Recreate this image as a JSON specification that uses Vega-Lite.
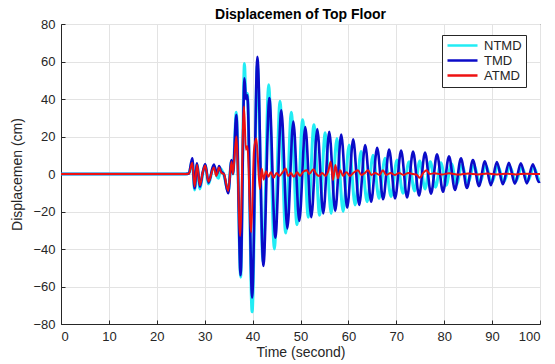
{
  "$schema": "https://vega.github.io/schema/vega-lite/v6.json",
  "width": 479,
  "height": 300,
  "autosize": {"type": "none"},
  "padding": {"left": 61, "top": 24, "right": 15, "bottom": 40},
  "background": "white",
  "title": {"text": "Displacemen of Top Floor", "fontSize": 14, "fontWeight": "bold", "font": "Liberation Sans", "offset": -4, "color": "#000000"},
  "config": {
    "view": {"stroke": "#262626", "strokeWidth": 1},
    "axis": {"gridColor": "#e3e3e3", "gridWidth": 1, "domainColor": "#262626", "tickColor": "#262626", "labelFont": "Liberation Sans", "labelFontSize": 13, "labelColor": "#262626", "titleFont": "Liberation Sans", "titleFontSize": 14, "titleFontWeight": "normal", "titleColor": "#262626", "tickSize": -4, "labelPadding": 10},
    "legend": {"labelFont": "Liberation Sans", "labelFontSize": 13, "labelColor": "#262626"}
  },
  "datasets": {
    "d": [
      {"s":"NTMD","t":0,"v":0},{"s":"NTMD","t":26,"v":0},{"s":"NTMD","t":26.7,"v":0.3},{"s":"NTMD","t":27.4,"v":7},{"s":"NTMD","t":27.9,"v":-8.5},{"s":"NTMD","t":28.4,"v":5},{"s":"NTMD","t":29.0,"v":-8},{"s":"NTMD","t":29.6,"v":0.5},{"s":"NTMD","t":30.1,"v":4.8},{"s":"NTMD","t":30.8,"v":-5.3},{"s":"NTMD","t":31.9,"v":4.5},{"s":"NTMD","t":32.5,"v":-1},{"s":"NTMD","t":32.9,"v":-2.3},{"s":"NTMD","t":33.3,"v":3},{"s":"NTMD","t":34.0,"v":-0.5},{"s":"NTMD","t":34.9,"v":-9.5},{"s":"NTMD","t":35.6,"v":7},{"s":"NTMD","t":35.9,"v":0},{"s":"NTMD","t":36.6,"v":33},{"s":"NTMD","t":37.5,"v":-55},{"s":"NTMD","t":38.3,"v":59},{"s":"NTMD","t":38.6,"v":41},{"s":"NTMD","t":38.9,"v":43},{"s":"NTMD","t":39.9,"v":-73.5},{"s":"NTMD","t":41.0,"v":58},
      {"s":"NTMD","t":42.18,"v":-47},{"s":"NTMD","t":43.36,"v":47.6},{"s":"NTMD","t":44.54,"v":-40},{"s":"NTMD","t":45.72,"v":38.8},{"s":"NTMD","t":46.9,"v":-31.5},{"s":"NTMD","t":48.08,"v":32.9},{"s":"NTMD","t":49.26,"v":-27},{"s":"NTMD","t":50.44,"v":29},{"s":"NTMD","t":51.62,"v":-23},{"s":"NTMD","t":52.8,"v":26.3},{"s":"NTMD","t":53.98,"v":-22},{"s":"NTMD","t":55.16,"v":22},{"s":"NTMD","t":56.4,"v":-21},{"s":"NTMD","t":57.6,"v":19},{"s":"NTMD","t":58.9,"v":-20},{"s":"NTMD","t":60.15,"v":15.5},{"s":"NTMD","t":61.4,"v":-16.5},{"s":"NTMD","t":62.65,"v":12},{"s":"NTMD","t":63.9,"v":-14.8},{"s":"NTMD","t":65.15,"v":10},{"s":"NTMD","t":66.4,"v":-13},{"s":"NTMD","t":67.65,"v":8.4},{"s":"NTMD","t":68.9,"v":-12},{"s":"NTMD","t":70.15,"v":7.5},{"s":"NTMD","t":71.4,"v":-10.3},{"s":"NTMD","t":72.65,"v":6.6},{"s":"NTMD","t":73.8,"v":-9},{"s":"NTMD","t":74.9,"v":7},{"s":"NTMD","t":76.0,"v":-8},{"s":"NTMD","t":77.1,"v":6.5},{"s":"NTMD","t":78.2,"v":-7},{"s":"NTMD","t":79.3,"v":6},{"s":"NTMD","t":80.4,"v":-6},{"s":"NTMD","t":81.5,"v":5.5},{"s":"NTMD","t":82.6,"v":-5.5},{"s":"NTMD","t":83.7,"v":5},{"s":"NTMD","t":84.95,"v":-5},{"s":"NTMD","t":86.2,"v":4.8},{"s":"NTMD","t":87.45,"v":-4.6},{"s":"NTMD","t":88.7,"v":4.5},{"s":"NTMD","t":89.95,"v":-4.4},{"s":"NTMD","t":91.2,"v":4.3},{"s":"NTMD","t":92.45,"v":-4.2},{"s":"NTMD","t":93.7,"v":4},{"s":"NTMD","t":94.95,"v":-4},{"s":"NTMD","t":96.2,"v":3.8},{"s":"NTMD","t":97.45,"v":-3.8},{"s":"NTMD","t":98.7,"v":3.6},{"s":"NTMD","t":99.95,"v":-3.4},{"s":"NTMD","t":100,"v":-3.4},

      {"s":"TMD","t":0,"v":0},{"s":"TMD","t":26,"v":0},{"s":"TMD","t":26.7,"v":0.3},{"s":"TMD","t":27.4,"v":8.4},{"s":"TMD","t":27.9,"v":-7.6},{"s":"TMD","t":28.4,"v":5.7},{"s":"TMD","t":29.0,"v":-6.8},{"s":"TMD","t":29.6,"v":1},{"s":"TMD","t":30.1,"v":5.3},{"s":"TMD","t":30.8,"v":-4.6},{"s":"TMD","t":31.9,"v":5},{"s":"TMD","t":32.6,"v":0},{"s":"TMD","t":33.0,"v":4.3},{"s":"TMD","t":33.4,"v":1.5},{"s":"TMD","t":34.0,"v":0},{"s":"TMD","t":34.9,"v":-10.3},{"s":"TMD","t":35.6,"v":7.5},{"s":"TMD","t":35.9,"v":0},{"s":"TMD","t":36.6,"v":31.6},{"s":"TMD","t":37.5,"v":-54},{"s":"TMD","t":38.3,"v":51},{"s":"TMD","t":38.6,"v":40},{"s":"TMD","t":38.9,"v":42},{"s":"TMD","t":39.9,"v":-66},{"s":"TMD","t":41.0,"v":62.5},
      {"s":"TMD","t":42.25,"v":-49},{"s":"TMD","t":43.5,"v":40.5},{"s":"TMD","t":44.75,"v":-34},{"s":"TMD","t":46,"v":34},{"s":"TMD","t":47.25,"v":-29},{"s":"TMD","t":48.5,"v":28},{"s":"TMD","t":49.75,"v":-25},{"s":"TMD","t":51,"v":25},{"s":"TMD","t":52.25,"v":-23},{"s":"TMD","t":53.5,"v":24},{"s":"TMD","t":54.75,"v":-21},{"s":"TMD","t":56,"v":22.5},{"s":"TMD","t":57.25,"v":-19.7},{"s":"TMD","t":58.5,"v":21},{"s":"TMD","t":59.75,"v":-18},{"s":"TMD","t":61,"v":18.5},{"s":"TMD","t":62.25,"v":-16.5},{"s":"TMD","t":63.5,"v":15.5},{"s":"TMD","t":64.75,"v":-14.8},{"s":"TMD","t":66,"v":14},{"s":"TMD","t":67.25,"v":-13.5},{"s":"TMD","t":68.5,"v":13},{"s":"TMD","t":69.75,"v":-13},{"s":"TMD","t":71,"v":12.5},{"s":"TMD","t":72.25,"v":-12.5},{"s":"TMD","t":73.5,"v":12},{"s":"TMD","t":74.75,"v":-11.5},{"s":"TMD","t":76,"v":11.5},{"s":"TMD","t":77.25,"v":-10.5},{"s":"TMD","t":78.5,"v":10.5},{"s":"TMD","t":79.75,"v":-9.5},{"s":"TMD","t":81,"v":9.5},{"s":"TMD","t":82.25,"v":-8.5},{"s":"TMD","t":83.5,"v":8.4},{"s":"TMD","t":84.75,"v":-7.5},{"s":"TMD","t":86,"v":7.5},{"s":"TMD","t":87.25,"v":-6.5},{"s":"TMD","t":88.5,"v":6.8},{"s":"TMD","t":89.75,"v":-6},{"s":"TMD","t":91,"v":6.4},{"s":"TMD","t":92.25,"v":-5.5},{"s":"TMD","t":93.5,"v":6},{"s":"TMD","t":94.75,"v":-5.2},{"s":"TMD","t":96,"v":5.7},{"s":"TMD","t":97.25,"v":-5},{"s":"TMD","t":98.5,"v":5.2},{"s":"TMD","t":99.75,"v":-4.3},{"s":"TMD","t":100,"v":-4},

      {"s":"ATMD","t":0,"v":0},{"s":"ATMD","t":26,"v":0},{"s":"ATMD","t":26.7,"v":0.3},{"s":"ATMD","t":27.4,"v":6},{"s":"ATMD","t":27.9,"v":-6.6},{"s":"ATMD","t":28.4,"v":5},{"s":"ATMD","t":29.0,"v":-6},{"s":"ATMD","t":29.6,"v":1},{"s":"ATMD","t":30.1,"v":4.5},{"s":"ATMD","t":30.8,"v":-4},{"s":"ATMD","t":31.9,"v":3.5},{"s":"ATMD","t":32.4,"v":-1},{"s":"ATMD","t":33.0,"v":3.5},{"s":"ATMD","t":33.5,"v":0.5},{"s":"ATMD","t":34.0,"v":0},{"s":"ATMD","t":34.9,"v":-9},{"s":"ATMD","t":35.6,"v":6.5},{"s":"ATMD","t":35.9,"v":0},{"s":"ATMD","t":36.6,"v":20},{"s":"ATMD","t":37.4,"v":-33},{"s":"ATMD","t":38.2,"v":36},{"s":"ATMD","t":38.6,"v":13},{"s":"ATMD","t":38.9,"v":15},{"s":"ATMD","t":39.7,"v":-31},{"s":"ATMD","t":40.3,"v":13},{"s":"ATMD","t":40.8,"v":19},{"s":"ATMD","t":41.5,"v":-8},{"s":"ATMD","t":41.9,"v":3},{"s":"ATMD","t":42.3,"v":-3},{"s":"ATMD","t":42.8,"v":1.5},{"s":"ATMD","t":43.3,"v":-1.5},{"s":"ATMD","t":43.8,"v":1},{"s":"ATMD","t":44.4,"v":-2},{"s":"ATMD","t":45.0,"v":0.5},{"s":"ATMD","t":45.6,"v":-1},{"s":"ATMD","t":46.3,"v":1},{"s":"ATMD","t":46.9,"v":3},{"s":"ATMD","t":47.4,"v":-1},{"s":"ATMD","t":48.0,"v":0.5},{"s":"ATMD","t":48.6,"v":-1.5},{"s":"ATMD","t":49.3,"v":1},{"s":"ATMD","t":49.9,"v":-1},{"s":"ATMD","t":50.5,"v":1},{"s":"ATMD","t":51.3,"v":2},{"s":"ATMD","t":51.8,"v":0},{"s":"ATMD","t":52.7,"v":2.5},{"s":"ATMD","t":53.3,"v":0},{"s":"ATMD","t":53.9,"v":-1},{"s":"ATMD","t":54.5,"v":0.5},{"s":"ATMD","t":55.2,"v":-1},{"s":"ATMD","t":55.8,"v":1.5},{"s":"ATMD","t":56.3,"v":6.5},{"s":"ATMD","t":56.8,"v":-3.2},{"s":"ATMD","t":57.3,"v":4.8},{"s":"ATMD","t":57.8,"v":-2.3},{"s":"ATMD","t":58.3,"v":2},{"s":"ATMD","t":58.9,"v":-1},{"s":"ATMD","t":59.6,"v":1},{"s":"ATMD","t":60.3,"v":-1},{"s":"ATMD","t":61.0,"v":0.5},{"s":"ATMD","t":62.0,"v":2},{"s":"ATMD","t":62.7,"v":-0.5},{"s":"ATMD","t":63.4,"v":0.5},{"s":"ATMD","t":64.1,"v":2},{"s":"ATMD","t":64.8,"v":-0.5},{"s":"ATMD","t":65.6,"v":0.5},{"s":"ATMD","t":66.5,"v":-0.5},{"s":"ATMD","t":67.2,"v":2},{"s":"ATMD","t":67.9,"v":-0.5},{"s":"ATMD","t":68.8,"v":0.5},{"s":"ATMD","t":69.7,"v":-0.5},{"s":"ATMD","t":70.6,"v":0.5},{"s":"ATMD","t":71.5,"v":-0.5},{"s":"ATMD","t":72.5,"v":0.5},{"s":"ATMD","t":73.5,"v":0},{"s":"ATMD","t":74.3,"v":-0.5},{"s":"ATMD","t":74.9,"v":-2},{"s":"ATMD","t":75.6,"v":0.5},{"s":"ATMD","t":76.3,"v":2},{"s":"ATMD","t":77.0,"v":0},{"s":"ATMD","t":78.0,"v":0.4},{"s":"ATMD","t":79.5,"v":-0.3},{"s":"ATMD","t":81,"v":0.4},{"s":"ATMD","t":83,"v":-0.3},{"s":"ATMD","t":85,"v":0.3},{"s":"ATMD","t":87,"v":-0.2},{"s":"ATMD","t":89,"v":0.3},{"s":"ATMD","t":91,"v":-0.2},{"s":"ATMD","t":93,"v":0.2},{"s":"ATMD","t":95,"v":-0.2},{"s":"ATMD","t":97,"v":0.2},{"s":"ATMD","t":100,"v":0}
    ]
  },
  "data": {"name": "d"},
  "encoding": {
    "x": {"field": "t", "type": "quantitative", "scale": {"domain": [0, 100], "nice": false}, "axis": {"values": [0,10,20,30,40,50,60,70,80,90,100], "title": "Time (second)", "titleY": 21}},
    "y": {"field": "v", "type": "quantitative", "scale": {"domain": [-80, 80], "nice": false}, "axis": {"values": [-80,-60,-40,-20,0,20,40,60,80], "title": "Displacemen (cm)", "titleX": -37}},
    "color": {"field": "s", "type": "nominal", "scale": {"domain": ["NTMD", "TMD", "ATMD"], "range": ["#22ecf4", "#0b0bc8", "#ee1111"]},
      "legend": {"title": null, "orient": "none", "legendX": 381, "legendY": 11, "fillColor": "white", "strokeColor": "#262626", "padding": 4, "symbolType": "stroke", "symbolSize": 900, "symbolStrokeWidth": 2.5, "clipHeight": 13, "rowPadding": 1, "labelOffset": 5}}
  },
  "layer": [
    {"transform": [{"filter": "datum.s === 'NTMD'"}], "mark": {"type": "line", "strokeWidth": 3, "interpolate": "monotone"}},
    {"transform": [{"filter": "datum.s === 'TMD'"}], "mark": {"type": "line", "strokeWidth": 2.6, "interpolate": "monotone"}},
    {"transform": [{"filter": "datum.s === 'ATMD'"}], "mark": {"type": "line", "strokeWidth": 2, "interpolate": "monotone"}}
  ]
}
